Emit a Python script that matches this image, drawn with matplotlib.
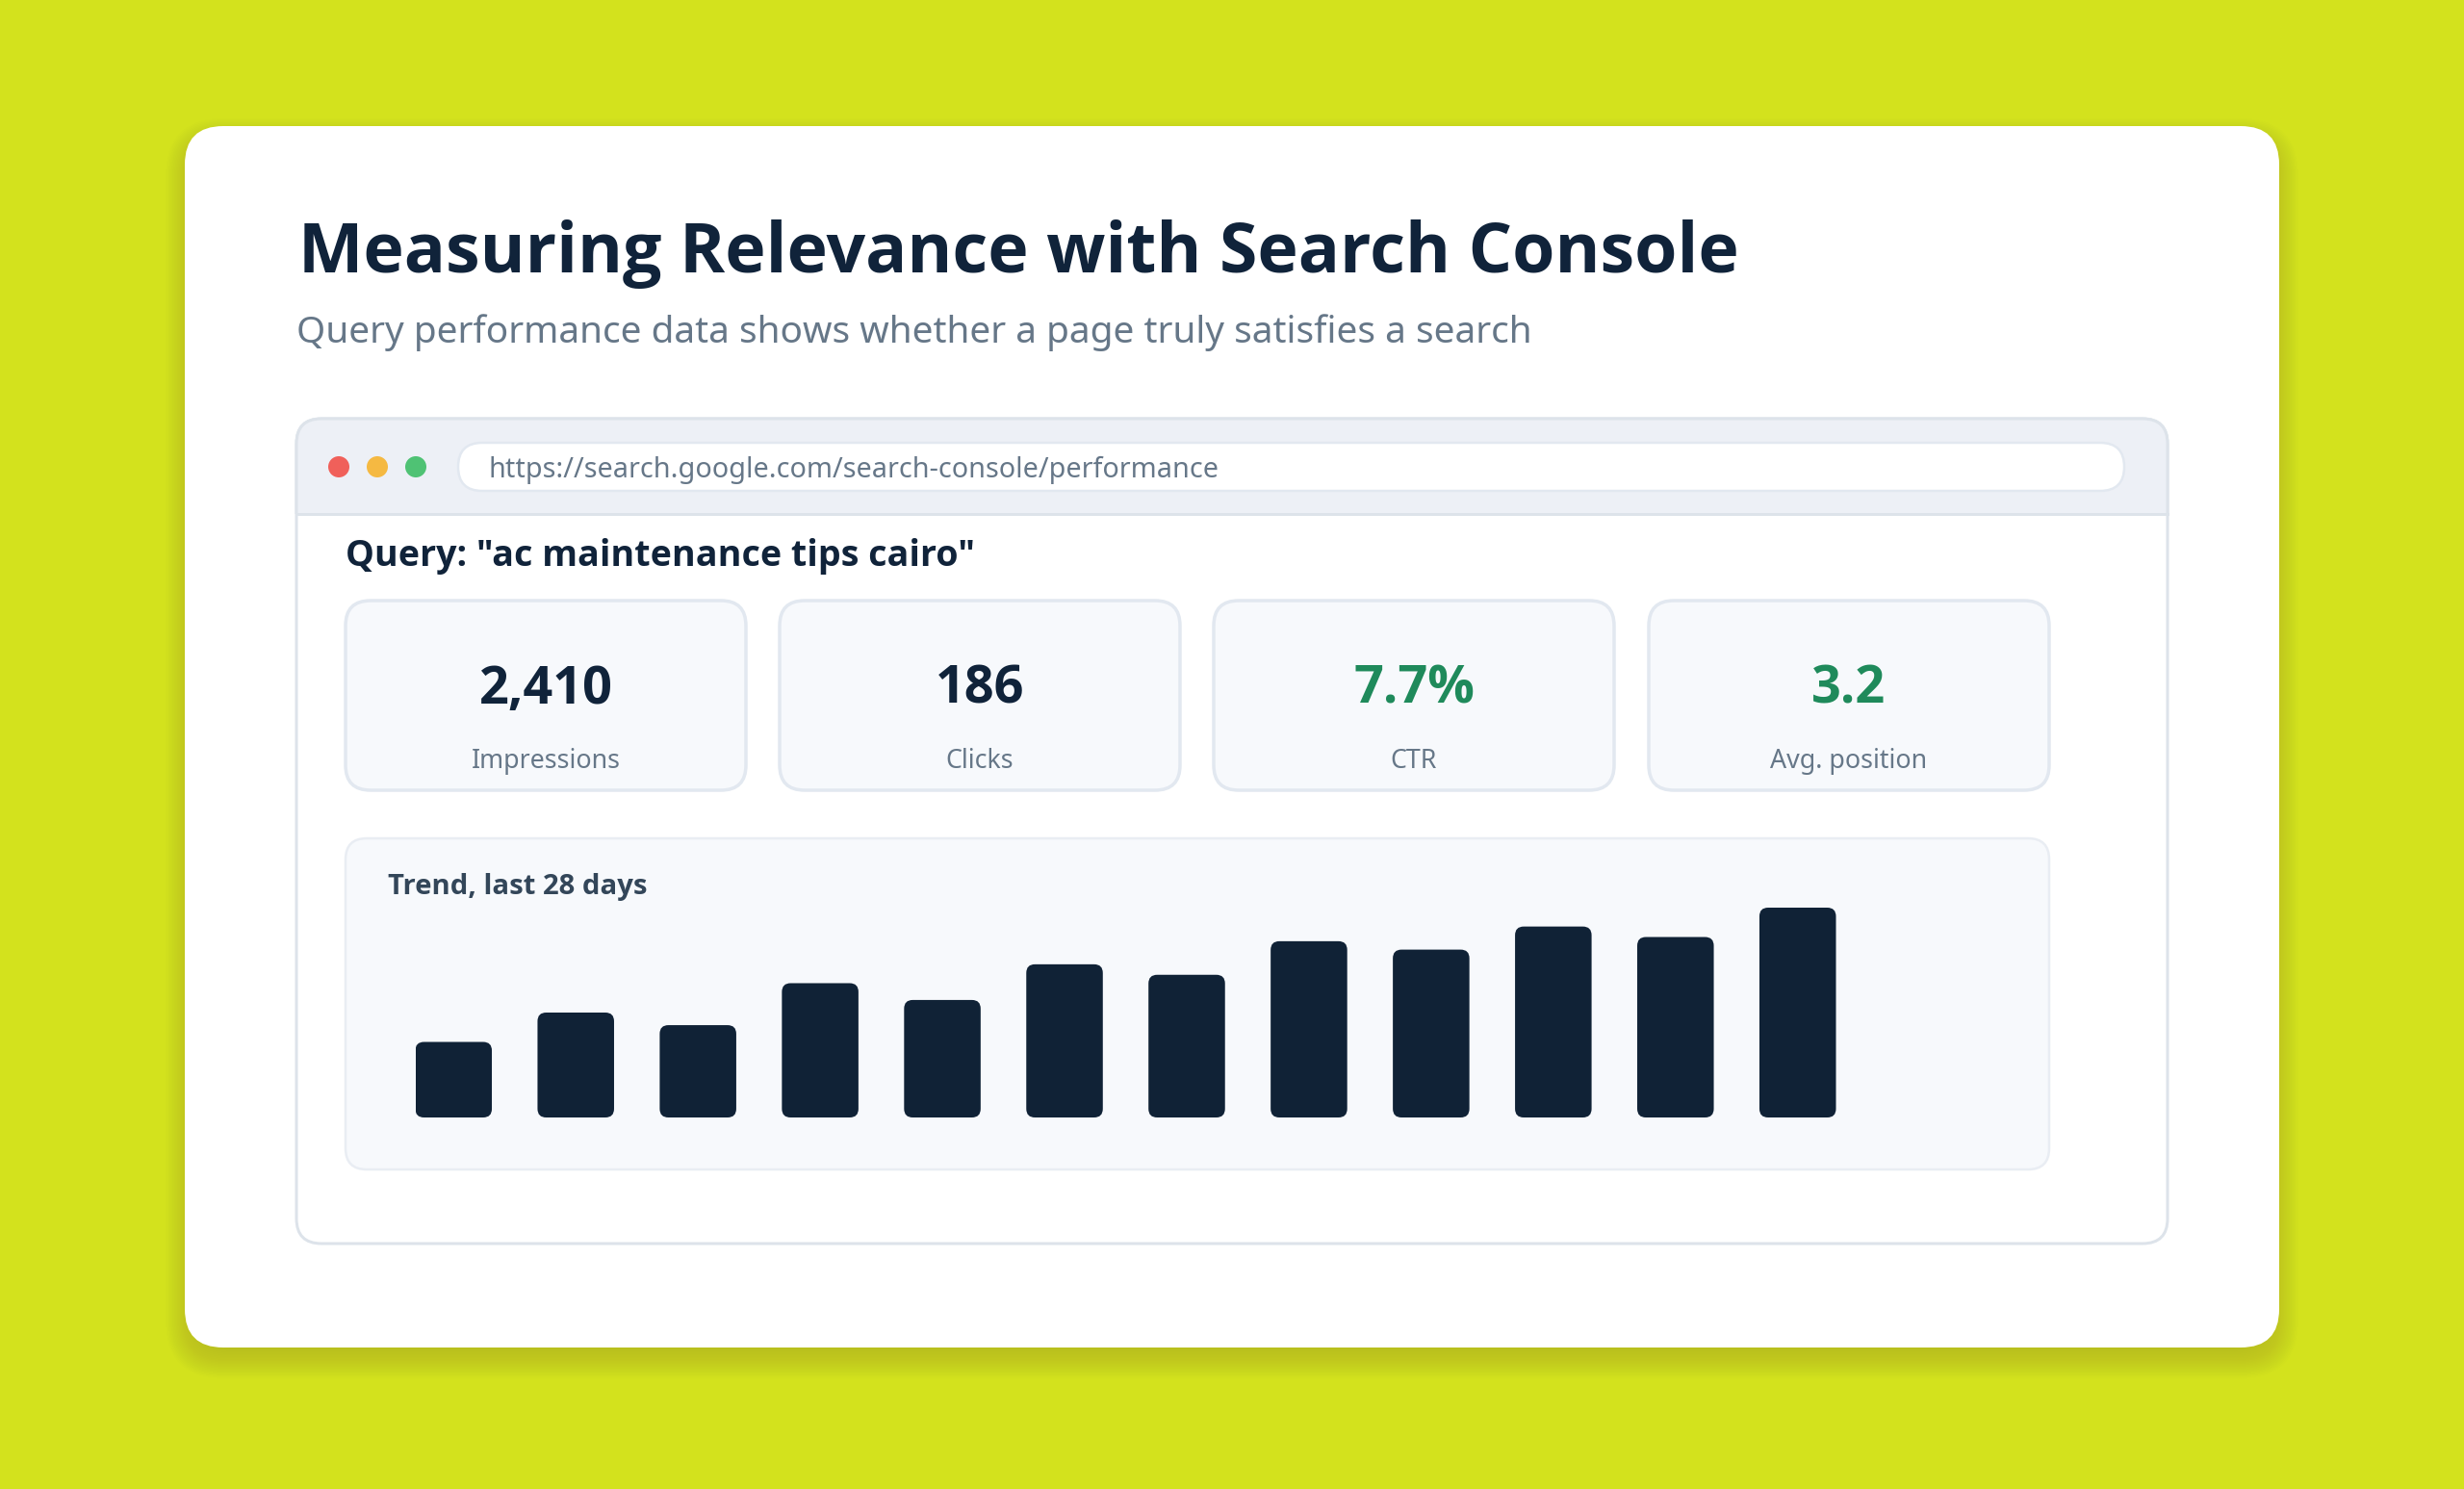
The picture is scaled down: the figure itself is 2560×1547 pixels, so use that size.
import matplotlib
matplotlib.use("Agg")
import matplotlib.pyplot as plt
from matplotlib.patches import FancyBboxPatch, Circle

# values
stat_values = ["2,410", "186", "7.7%", "3.2"]
stat_labels = ["Impressions", "Clicks", "CTR", "Avg. position"]
stat_colors = ["#10233a", "#10233a", "#1f8a5b", "#1f8a5b"]
trend_values = [36, 50, 44, 64, 56, 73, 68, 84, 80, 91, 86, 100]

title = "Measuring Relevance with Search Console"
subtitle = "Query performance data shows whether a page truly satisfies a search"
url = "https://search.google.com/search-console/performance"
query = 'Query: "ac maintenance tips cairo"'
trend_title = "Trend, last 28 days"

W, H = 2560, 1547
FONT = "Noto Sans"
BOLD = "Open Sans"


def box(ax, x0, y0, x1, y1, r, fc, ec="none", lw=0, **kw):
    p = FancyBboxPatch((x0, y0), x1 - x0, y1 - y0,
                       boxstyle=f"round,pad=0,rounding_size={r}",
                       fc=fc, ec=ec, lw=lw * 0.72, **kw)
    ax.add_patch(p)
    return p


def px(size):
    return size * 0.72


def main():
    fig = plt.figure(figsize=(W / 100, H / 100), dpi=100, facecolor="#d3e21d")
    ax = fig.add_axes([0, 0, 1, 1])
    ax.set_xlim(0, W)
    ax.set_ylim(H, 0)
    ax.axis("off")

    # soft shadow under the card
    for i in range(24):
        g = 20 - i * 1.5
        box(ax, 192 - g, 131 + 12 - g, 2368 + g, 1400 + 12 + g, 40 + max(g, 0),
            "#4a4a20", alpha=0.009)
    box(ax, 192, 131, 2368, 1400, 40, "white")

    ax.text(310, 283, title, fontsize=px(71.5), fontweight="bold", color="#10233a", family=BOLD)
    ax.text(308, 356, subtitle, fontsize=px(38.8), color="#667788", family=FONT)

    # browser window
    box(ax, 308, 435, 2252, 1292, 26, "white", "#dde3ea", 3)
    title_bar = box(ax, 308, 435, 2252, 600, 26, "#edf0f6", "#dde3ea", 3)
    clip = plt.Rectangle((300, 425), 1960, 109, transform=ax.transData)
    title_bar.set_clip_path(clip)
    ax.plot([308, 2252], [534, 534], color="#dde3ea", lw=px(3))
    for x, c in zip([352, 392, 432], ["#f0605a", "#f5b942", "#4fc274"]):
        ax.add_patch(Circle((x, 485), 11, fc=c, ec="none"))
    box(ax, 476, 460, 2207, 510, 25, "white", "#e2e8f0", 2.5)
    ax.text(508, 496, url, fontsize=px(28.8), color="#667788", family=FONT)
    ax.text(359, 588, query, fontsize=px(37.6), fontweight="bold", color="#10233a", family=BOLD)

    # stat cards
    lefts = [359, 810, 1261, 1713]
    for x, v, lab, c in zip(lefts, stat_values, stat_labels, stat_colors):
        box(ax, x, 624, x + 416, 821, 26, "#f7f9fc", "#e2e8f0", 3.5)
        ax.text(x + 208, 730.5, v, fontsize=px(54), fontweight="bold", color=c,
                ha="center", family=BOLD)
        ax.text(x + 208, 798, lab, fontsize=px(26.8), color="#667788", ha="center", family=FONT)

    # trend panel
    box(ax, 359, 871, 2129, 1215, 22, "#f7f9fc", "#e9edf3", 2.5)
    ax.text(403, 929, trend_title, fontsize=px(29.3), fontweight="bold", color="#334659", family=BOLD)

    # bars sit in their own axes, 100 = tallest bar
    bx0, bx1, by0, by1 = 431.5, 1907.5, 1161, 943
    bar_ax = fig.add_axes([bx0 / W, 1 - by0 / H, (bx1 - bx0) / W, (by0 - by1) / H])
    bar_ax.axis("off")
    bar_ax.patch.set_alpha(0)
    xs = list(range(len(trend_values)))
    width = 79.5 / 126.9
    bars = bar_ax.bar(xs, trend_values, width=width)
    bar_ax.set_xlim(-width / 2, xs[-1] + width / 2)
    bar_ax.set_ylim(0, 100)
    for b in list(bars):
        x, y, w, h = b.get_x(), b.get_y(), b.get_width(), b.get_height()
        b.remove()
        # corner radius about 9 px, aspect between the data units of both axes
        p = FancyBboxPatch((x, y), w, h,
                           boxstyle=f"round,pad=0,rounding_size={9 / 126.9}",
                           mutation_aspect=(100 / 218) / (1 / 126.9),
                           fc="#102236", ec="none")
        bar_ax.add_patch(p)

    fig.savefig("out.png", dpi=100, facecolor=fig.get_facecolor())


if __name__ == "__main__":
    main()
